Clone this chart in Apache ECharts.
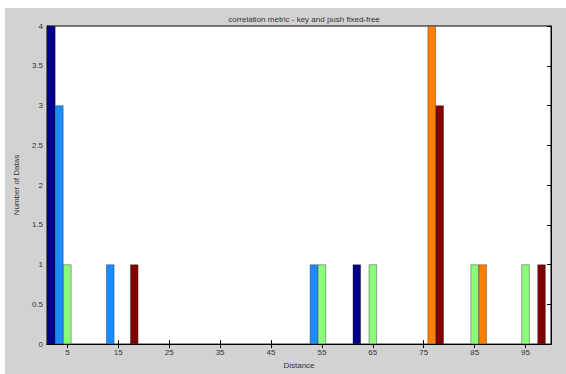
<!DOCTYPE html>
<html>
<head>
<meta charset="utf-8">
<script src="https://cdn.jsdelivr.net/npm/echarts@6/dist/echarts.min.js"></script>
<style>
html,body{margin:0;padding:0;background:#ffffff;}
#c{width:566px;height:374px;}
</style>
</head>
<body>
<div id="c"></div>
<script>
const titleText = 'correlation metric - key and push fixed-free';
const xLabel = 'Distance';
const yLabel = 'Number of Datas';
const distances = [5, 15, 25, 35, 45, 55, 65, 75, 85, 95];
const yTicks = [0, 0.5, 1, 1.5, 2, 2.5, 3, 3.5, 4];
const series1 = [4, 0, 0, 0, 0, 0, 1, 0, 0, 0];
const series2 = [3, 1, 0, 0, 0, 1, 0, 0, 0, 0];
const series3 = [1, 0, 0, 0, 0, 1, 1, 0, 1, 1];
const series4 = [0, 0, 0, 0, 0, 0, 0, 4, 1, 0];
const series5 = [0, 1, 0, 0, 0, 0, 0, 3, 0, 1];
const colors = ['#00008c', '#1a8cff', '#8cff7a', '#ff7f00', '#800000'];

const chart = echarts.init(document.getElementById('c'), null, {renderer: 'svg'});
const font = 'Liberation Sans, Arial, sans-serif';
const allSeries = [series1, series2, series3, series4, series5];

const option = {
  backgroundColor: '#ffffff',
  animation: false,
  graphic: [{
    type: 'rect', z: -10, silent: true,
    shape: {x: 5, y: 8, width: 561, height: 366},
    style: {fill: '#d2d2d2'}
  }],
  title: {
    text: titleText, left: 299, top: 10, textAlign: 'center',
    textStyle: {fontSize: 8, fontWeight: 'normal', color: '#333', fontFamily: font}
  },
  grid: {
    left: 47, right: 15, top: 26, bottom: 25,
    show: true, backgroundColor: '#ffffff', borderColor: '#000', borderWidth: 1
  },
  xAxis: [{
    type: 'value', min: 1, max: 100, position: 'bottom',
    name: xLabel, nameLocation: 'middle', nameGap: 15,
    nameTextStyle: {fontSize: 8, color: '#333', fontFamily: font},
    axisLine: {show: true, lineStyle: {color: '#000', width: 1}},
    axisTick: {show: true, inside: true, length: 4, customValues: distances, lineStyle: {color: '#000'}},
    axisLabel: {customValues: distances, fontSize: 8, color: '#333', fontFamily: font, margin: 4},
    splitLine: {show: false}
  }, {
    type: 'value', min: 1, max: 100, position: 'top',
    axisLine: {show: true, lineStyle: {color: '#000', width: 1}},
    axisTick: {show: true, inside: true, length: 4, customValues: distances, lineStyle: {color: '#000'}},
    axisLabel: {show: false},
    splitLine: {show: false}
  }],
  yAxis: [{
    type: 'value', min: 0, max: 4, interval: 0.5,
    name: yLabel, nameLocation: 'middle', nameGap: 22,
    nameTextStyle: {fontSize: 8, color: '#333', fontFamily: font},
    axisLine: {show: true, lineStyle: {color: '#000', width: 1}},
    axisTick: {show: true, inside: true, length: 4, lineStyle: {color: '#000'}},
    axisLabel: {fontSize: 8, color: '#333', fontFamily: font, margin: 4,
      formatter: v => String(v)},
    splitLine: {show: false}
  }, {
    type: 'value', min: 0, max: 4, interval: 0.5, position: 'right',
    axisLine: {show: true, lineStyle: {color: '#000', width: 1}},
    axisTick: {show: true, inside: true, length: 4, lineStyle: {color: '#000'}},
    axisLabel: {show: false},
    splitLine: {show: false}
  }],
  series: allSeries.map((vals, i) => ({
    type: 'bar',
    xAxisIndex: 0, yAxisIndex: 0,
    barWidth: 8,
    barGap: '0%',
    z: 1,
    data: distances.map((d, j) => ({
      value: [d, vals[j]],
      itemStyle: vals[j] > 0 ? {} : {borderWidth: 0, opacity: 0}
    })),
    itemStyle: {color: colors[i], borderColor: '#222', borderWidth: 0.4}
  }))
};
chart.setOption(option);
</script>
</body>
</html>
